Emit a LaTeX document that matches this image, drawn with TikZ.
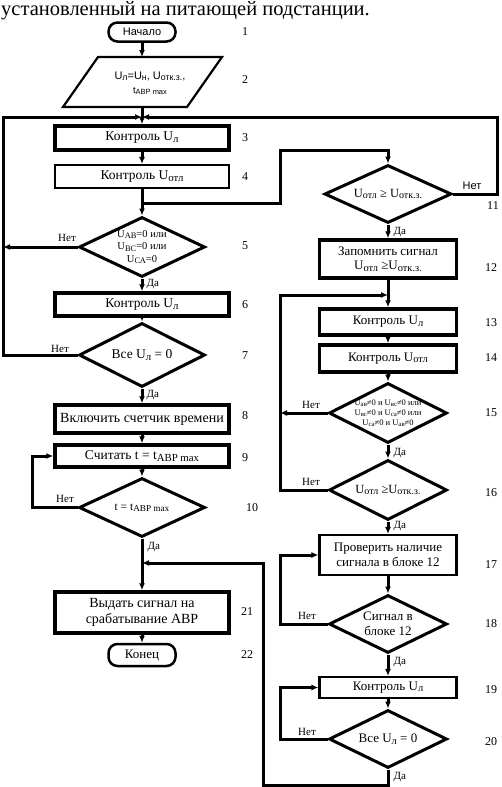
\documentclass[tikz,border=0pt]{standalone}
\usepackage{fontspec}
\usepackage{graphicx}
\setmainfont{Liberation Serif}
\newfontfamily\sansf{Liberation Sans}
\usetikzlibrary{shapes.geometric,arrows.meta}
\newcommand\sbs[1]{\raisebox{-0.12em}{\scalebox{0.8}{#1}}}
\begin{document}
\begin{tikzpicture}[x=1pt,y=-1pt,line join=miter,
  conn/.style={line width=3pt},
  arr/.style={line width=3pt,-{Latex[length=7pt,width=6pt]}},
  boxa/.style={draw,line width=3.5pt,minimum width=174pt,inner sep=0pt,align=center,font=\fontsize{13.5}{15}\selectfont},
  boxb/.style={draw,line width=2.2pt,minimum width=174pt,inner sep=0pt,align=center,font=\fontsize{13.5}{15}\selectfont},
  rboxa/.style={boxa,minimum width=137pt,font=\fontsize{13}{14.5}\selectfont},
  rboxb/.style={boxb,minimum width=137pt,font=\fontsize{13}{14.5}\selectfont},
  dia/.style={draw,diamond,line width=3pt,inner sep=0pt,minimum width=126pt},
  rdia/.style={dia,minimum width=118pt},
  term/.style={draw,line width=2.5pt,rounded corners=9pt,minimum width=67pt,inner sep=0pt},
  num/.style={font=\fontsize{12}{13}\selectfont},
  yes/.style={font=\fontsize{11}{12}\selectfont,anchor=west},
  no/.style={font=\fontsize{11}{12}\selectfont}
]
\useasboundingbox (0,0) rectangle (501,787);

\node[anchor=base west,font=\fontsize{20.5}{21}\selectfont,inner sep=0pt] (title) at (1,15) {установленный на питающей подстанции.};

% left column
\node[term,minimum height=19pt,font=\sansf\fontsize{11}{12}\selectfont] (n1) at (142,32) {Начало};
\draw[line width=2.2pt] (63,107) -- (98,57) -- (222,57) -- (187,107) -- cycle;
\node[align=center,font=\sansf\fontsize{11}{16}\selectfont] (n2) at (150,83) {U\sbs{л}=U\sbs{н}, U\sbs{отк.з.},\\[-2pt] \scalebox{0.85}{t\sbs{АВР max}}};
\node[boxa,minimum height=24pt] (n3) at (142,138) {Контроль U\sbs{л}};
\node[boxb,minimum height=23pt] (n4) at (142,176.5) {Контроль U\sbs{отл}};
\node[dia,minimum height=60pt,label={[align=center,font=\fontsize{10.5}{12.5}\selectfont]center:U\sbs{АВ}=0 или\\U\sbs{ВС}=0 или\\U\sbs{СА}=0}] (n5) at (142,247) {};
\node[boxa,minimum height=23pt] (n6) at (142,304.5) {Контроль U\sbs{л}};
\node[dia,minimum height=64pt,label={[font=\fontsize{13.5}{15}\selectfont]center:Все U\sbs{л} = 0}] (n7) at (142,355) {};
\node[boxa,minimum height=28pt,font=\fontsize{14}{15}\selectfont] (n8) at (142,419) {Включить счетчик времени};
\node[boxa,minimum height=22pt] (n9) at (142,456) {Считать t = t\sbs{АВР max}};
\node[dia,minimum height=59pt,label={[font=\fontsize{11.5}{12}\selectfont]center:t = t\sbs{АВР max}}] (n10) at (142,507.5) {};
\node[boxa,minimum height=41pt,font=\fontsize{14}{15.5}\selectfont] (n21) at (142,612.5) {Выдать сигнал на\\срабатывание АВР};
\node[term,minimum height=22pt,font=\fontsize{13}{14}\selectfont] (n22) at (142,655) {Конец};

% right column
\node[rdia,minimum width=127pt,minimum height=58pt,label={[font=\fontsize{12.5}{13}\selectfont]center:U\sbs{отл} ≥ U\sbs{отк.з.}}] (n11) at (388,194) {};
\node[rboxa,minimum height=38pt] (n12) at (388,259) {Запомнить сигнал\\U\sbs{отл} ≥U\sbs{отк.з.}};
\node[rboxa,minimum height=26pt] (n13) at (388,322) {Контроль U\sbs{л}};
\node[rboxa,minimum height=27pt] (n14) at (388,358.5) {Контроль U\sbs{отл}};
\node[rdia,minimum height=60pt,label={[align=center,font=\fontsize{8.5}{10}\selectfont]center:U\sbs{ав}≠0 и U\sbs{вс}≠0 или\\U\sbs{вс}≠0 и U\sbs{са}≠0 или\\U\sbs{са}≠0 и U\sbs{ав}≠0}] (n15) at (388,413) {};
\node[rdia,minimum height=60pt,label={[font=\fontsize{12.5}{13}\selectfont]center:U\sbs{отл} ≥U\sbs{отк.з.}}] (n16) at (388,490) {};
\node[rboxb,minimum height=40pt] (n17) at (388,555) {Проверить наличие\\сигнала в блоке 12};
\node[rdia,minimum height=58pt,label={[align=center,font=\fontsize{13}{14.5}\selectfont]center:Сигнал в\\блоке 12}] (n18) at (388,624) {};
\node[rboxb,minimum height=21pt] (n19) at (388,687.5) {Контроль U\sbs{л}};
\node[rdia,minimum height=58pt,label={[font=\fontsize{13}{14}\selectfont]center:Все U\sbs{л} = 0}] (n20) at (388,739) {};

% junctions
\coordinate (j1) at (142,117);
\coordinate (j2) at (142,563);
\coordinate (j3) at (388,295);

% connectors
\draw[arr] (n1) -- (142,57);
\draw[arr] (142,107) -- (n3);
\draw[arr] (n7.west) -- (3,355) -- (3,117) -- (j1);
\draw[arr] (n11.east) -- (497,194) -- (497,117) -- (j1);
\draw[arr] (n3) -- (n4);
\draw[arr] (n4) -- (n5);
\draw[arr] (142,203) -- (280,203) -- (280,150) -- (388,150) -- (n11.north);
\draw[arr] (n5.west) -- (3,247);
\draw[arr] (n5) -- (n6);
\draw[arr] (n6) -- (n7);
\draw[arr] (n7) -- (n8);
\draw[arr] (n8) -- (n9);
\draw[arr] (n9) -- (n10);
\draw[arr] (n10.west) -- (32,507.5) |- (n9.west);
\draw[arr] (n10) -- (n21);
\draw[arr] (n20.south) -- (388,785) -- (263,785) -- (263,563) -- (j2);
\draw[arr] (n21) -- (n22);
\draw[arr] (n11) -- (n12);
\draw[conn] (n12.south) -- (j3);
\draw[arr] (j3) -- (n13);
\draw[arr] (n16.west) -- (280,490) -- (280,295) -- (j3);
\draw[arr] (n13) -- (n14);
\draw[arr] (n14) -- (n15);
\draw[arr] (n15.west) -- (280,413);
\draw[arr] (n15) -- (n16);
\draw[arr] (n16) -- (n17);
\draw[arr] (n17) -- (n18);
\draw[arr] (n18.west) -- (280,624) |- (n17.west);
\draw[arr] (n18) -- (n19);
\draw[arr] (n19) -- (n20);
\draw[arr] (n20.west) -- (280,739) |- (n19.west);

% branch labels
\node[no] (l5n) at (67,238) {Нет};
\node[yes] (l5y) at (143,284) {Да};
\node[no] (l7n) at (60,349) {Нет};
\node[yes] (l7y) at (143,395) {Да};
\node[no] (l10n) at (65,499) {Нет};
\node[yes] (l10y) at (144,547) {Да};
\node[no,font=\sansf\fontsize{11}{12}\selectfont] (l11n) at (472,186) {Нет};
\node[yes] (l11y) at (390,232) {Да};
\node[no] (l15n) at (311,405) {Нет};
\node[yes] (l15y) at (390,453) {Да};
\node[no] (l16n) at (311,482) {Нет};
\node[yes] (l16y) at (390,526) {Да};
\node[no] (l18n) at (307,616) {Нет};
\node[yes] (l18y) at (390,662) {Да};
\node[no] (l20n) at (307,732) {Нет};
\node[yes] (l20y) at (390,777) {Да};

% block numbers
\node[num] at (245,32) {1};
\node[num] at (245,80) {2};
\node[num] at (245,138) {3};
\node[num] at (245,177) {4};
\node[num] at (245,246) {5};
\node[num] at (245,305) {6};
\node[num] at (245,356) {7};
\node[num] at (245,416) {8};
\node[num] at (245,458) {9};
\node[num] at (252,508) {10};
\node[num] at (493,206) {11};
\node[num] at (491,268) {12};
\node[num] at (491,323) {13};
\node[num] at (491,358) {14};
\node[num] at (491,413) {15};
\node[num] at (491,493) {16};
\node[num] at (491,565) {17};
\node[num] at (491,624) {18};
\node[num] at (491,690) {19};
\node[num] at (491,742) {20};
\node[num] at (247,612) {21};
\node[num] at (247,655) {22};
\end{tikzpicture}
\end{document}
